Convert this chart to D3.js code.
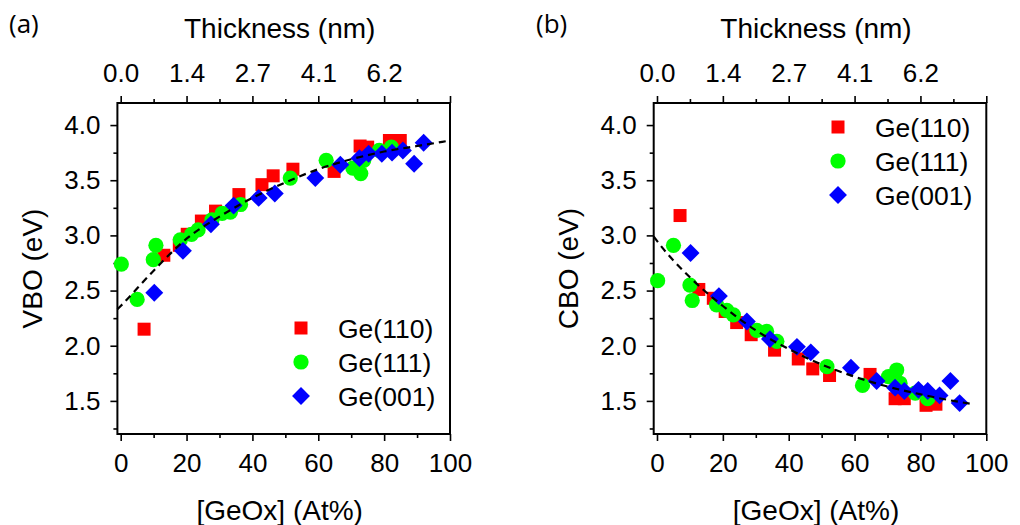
<!DOCTYPE html>
<html>
<head>
<meta charset="utf-8">
<script src="https://cdn.jsdelivr.net/npm/d3@7"></script>
<style>
  html, body { margin: 0; padding: 0; background: #fff; }
  svg { display: block; font-family: "Liberation Sans", Arial, sans-serif; }
</style>
</head>
<body>
<svg id="chart" width="1020" height="525"></svg>
<script>
// ---- data: [GeOx] (At%) vs band offset (eV) ----
const vboGe110 = [[7.1,2.15],[13.1,2.82],[17.8,2.91],[20.2,3.01],[24.5,3.13],[28.8,3.22],[35.9,3.37],[42.9,3.46],[46.3,3.54],[52.3,3.60],[64.8,3.58],[72.7,3.81],[75.0,3.80],[81.6,3.86],[84.9,3.86]];
const vboGe111 = [[0.2,2.74],[5.0,2.42],[9.9,2.78],[10.7,2.91],[18.1,2.96],[21.5,3.01],[23.5,3.05],[27.7,3.14],[30.8,3.20],[33.3,3.21],[36.4,3.28],[51.5,3.52],[62.4,3.68],[70.5,3.61],[72.9,3.56],[73.8,3.68],[78.5,3.77],[82.2,3.80]];
const vboGe001 = [[10.2,2.48],[18.9,2.86],[27.4,3.10],[34.3,3.27],[41.9,3.34],[46.8,3.38],[59.1,3.52],[66.7,3.64],[72.5,3.70],[75.3,3.74],[79.3,3.74],[82.4,3.75],[85.7,3.77],[89.1,3.65],[92.0,3.84]];
const vboFit = [[-1,2.33],[0,2.36],[10,2.68],[20,2.97],[30,3.17],[40,3.34],[50,3.48],[60,3.60],[70,3.69],[80,3.76],[90,3.81],[100,3.86]];

const cboGe110 = [[7.0,3.18],[12.7,2.51],[17.1,2.43],[20.7,2.31],[24.2,2.21],[28.6,2.10],[35.7,1.96],[42.9,1.88],[47.3,1.79],[52.4,1.73],[64.7,1.74],[72.3,1.52],[75.1,1.52],[81.7,1.46],[84.7,1.47]];
const cboGe111 = [[0.2,2.59],[5.0,2.91],[10.0,2.55],[10.7,2.41],[18.1,2.37],[21.2,2.32],[23.2,2.28],[30.3,2.14],[33.3,2.13],[36.4,2.04],[51.6,1.81],[62.4,1.64],[70.3,1.72],[72.8,1.78],[73.8,1.66],[78.4,1.57],[82.2,1.52]];
const cboGe001 = [[10.2,2.84],[18.8,2.45],[27.3,2.22],[34.3,2.06],[42.5,1.99],[46.7,1.94],[58.9,1.80],[66.7,1.68],[72.3,1.62],[75.1,1.59],[79.4,1.60],[82.2,1.59],[85.8,1.55],[89.1,1.68],[91.9,1.48]];
const cboFit = [[-1,2.99],[0,2.95],[10,2.62],[20,2.36],[30,2.14],[40,1.97],[50,1.83],[60,1.72],[70,1.63],[80,1.56],[90,1.50],[96,1.47]];

const seriesNames = ["Ge(110)", "Ge(111)", "Ge(001)"];
const seriesColors = ["#ff0000", "#00ff00", "#0000ff"];
const xTicks = [0, 20, 40, 60, 80, 100];
const xMinorTicks = [10, 30, 50, 70, 90];
const yTicks = [1.5, 2.0, 2.5, 3.0, 3.5, 4.0];
const yMinorTicks = [1.25, 1.75, 2.25, 2.75, 3.25, 3.75];
const thicknessTicks = [0, 20, 40, 60, 80];
const thicknessLabels = ["0.0", "1.4", "2.7", "4.1", "6.2"];

const svg = d3.select("#chart");
const TICK_FONT = 26;
const TITLE_FONT = 28;
const LEGEND_FONT = 26.5;

const symbolFor = [
  d3.symbol().type(d3.symbolSquare).size(169),
  d3.symbol().type(d3.symbolCircle).size(182),
  d3.symbol().type(d3.symbolSquare).size(160)
];
const rotateFor = [0, 0, 45];

function drawPanel(opt) {
  const x = d3.scaleLinear().domain([-1, 100]).range([opt.left, opt.left + 332.6]);
  const y = d3.scaleLinear().domain([1.2, 4.2]).range([434, 103]);
  const g = svg.append("g");
  const [x0, x1] = x.range();
  const [yb, yt] = y.range();

  // bottom axis
  const bottom = g.append("g").attr("transform", `translate(0,${yb})`)
    .call(d3.axisBottom(x).tickValues(xTicks).tickSize(7).tickSizeOuter(0).tickPadding(13).tickFormat(d3.format("d")));
  bottom.append("g").call(d3.axisBottom(x).tickValues(xMinorTicks).tickSize(4).tickSizeOuter(0).tickFormat(""));

  // top axis (thickness)
  const top = g.append("g").attr("transform", `translate(0,${yt})`)
    .call(d3.axisTop(x).tickValues(xTicks).tickSize(7).tickSizeOuter(0).tickPadding(14)
      .tickFormat(d => { const i = thicknessTicks.indexOf(d); return i >= 0 ? thicknessLabels[i] : ""; }));
  top.append("g").call(d3.axisTop(x).tickValues(xMinorTicks).tickSize(4).tickSizeOuter(0).tickFormat(""));

  // left axis
  const left = g.append("g").attr("transform", `translate(${x0},0)`)
    .call(d3.axisLeft(y).tickValues(yTicks).tickSize(7).tickSizeOuter(0).tickPadding(10).tickFormat(d3.format(".1f")));
  left.append("g").call(d3.axisLeft(y).tickValues(yMinorTicks).tickSize(4).tickSizeOuter(0).tickFormat(""));

  g.selectAll(".domain").remove();
  g.selectAll(".tick line").attr("stroke", "#000").attr("stroke-width", 1.6);
  g.selectAll(".tick text").attr("font-size", TICK_FONT).attr("fill", "#000")
    .attr("font-family", "Liberation Sans, Arial, sans-serif");

  // frame
  g.append("rect").attr("x", x0).attr("y", yt).attr("width", x1 - x0).attr("height", yb - yt)
    .attr("fill", "none").attr("stroke", "#000").attr("stroke-width", 2);

  // data
  opt.series.forEach((pts, i) => {
    g.append("g").selectAll("path").data(pts).join("path")
      .attr("d", symbolFor[i])
      .attr("transform", d => `translate(${x(d[0])},${y(d[1])}) rotate(${rotateFor[i]})`)
      .attr("fill", seriesColors[i]);
  });

  // fitted trend
  g.append("path").datum(opt.fit)
    .attr("d", d3.line().x(d => x(d[0])).y(d => y(d[1])).curve(d3.curveMonotoneX))
    .attr("fill", "none").attr("stroke", "#000").attr("stroke-width", 2.2)
    .attr("stroke-dasharray", "7,5");

  // legend
  seriesNames.forEach((name, i) => {
    const ly = opt.legendY + i * 34;
    g.append("path").attr("d", symbolFor[i])
      .attr("transform", `translate(${opt.legendX},${ly}) rotate(${rotateFor[i]})`)
      .attr("fill", seriesColors[i]);
    g.append("text").attr("x", opt.legendX + 37).attr("y", ly + 9.5)
      .attr("font-size", LEGEND_FONT).text(name);
  });

  // axis titles
  const cx = (x0 + x1) / 2 - 4;
  g.append("text").attr("x", cx).attr("y", 38).attr("text-anchor", "middle")
    .attr("font-size", TITLE_FONT).text("Thickness (nm)");
  g.append("text").attr("x", cx).attr("y", 520).attr("text-anchor", "middle")
    .attr("font-size", TITLE_FONT).text("[GeOx] (At%)");
  g.append("text").attr("transform", `translate(${opt.yTitleX},${(yb + yt) / 2}) rotate(-90)`)
    .attr("text-anchor", "middle").attr("font-size", TITLE_FONT).text(opt.yTitle);

  // panel tag
  g.append("text").attr("x", opt.tagX).attr("y", 33)
    .attr("font-family", "Open Sans, sans-serif").attr("font-size", 26).text(opt.tag);
}

drawPanel({ left: 117.4, series: [vboGe110, vboGe111, vboGe001], fit: vboFit,
  legendX: 301, legendY: 328, yTitle: "VBO (eV)", yTitleX: 42, tag: "(a)", tagX: 9 });
drawPanel({ left: 653.7, series: [cboGe110, cboGe111, cboGe001], fit: cboFit,
  legendX: 838, legendY: 127, yTitle: "CBO (eV)", yTitleX: 578, tag: "(b)", tagX: 536 });
</script>
</body>
</html>
